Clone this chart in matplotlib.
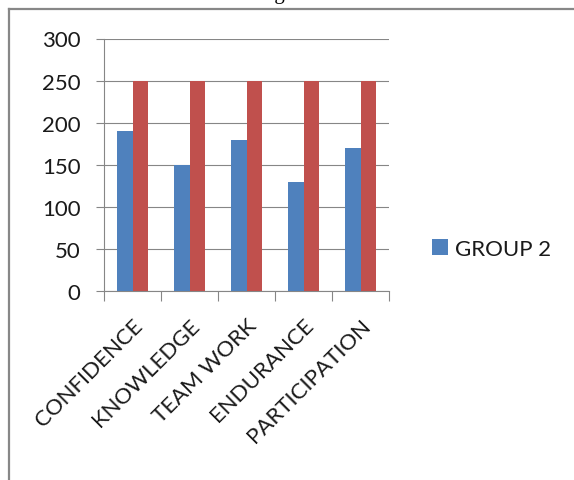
import matplotlib
matplotlib.use("Agg")
import matplotlib.pyplot as plt
from matplotlib.lines import Line2D
import numpy as np

categories = ["CONFIDENCE", "KNOWLEDGE", "TEAM WORK", "ENDURANCE", "PARTICIPATION"]
group2 = [190, 150, 180, 130, 170]
group1 = [250, 250, 250, 250, 250]
yticks = [0, 50, 100, 150, 200, 250, 300]

BLUE = "#4F81BD"
RED = "#C0504D"
GRID = "#868686"
TEXT = "#1a1a1a"

plt.rcParams["font.family"] = ["Lato", "DejaVu Sans"]

W, H = 574, 481
fig = plt.figure(figsize=(W / 100, H / 100), dpi=100)

# caption above the chart, mostly cut off at the top edge
fig.text(257 / W, 1 + 1 / H, "Figure", family="Liberation Serif", fontsize=15,
         ha="left", va="baseline", color="black")

# outer chart frame (top and left edges)
fig.add_artist(Line2D([9 / W, 1.0], [1 - 10 / H, 1 - 10 / H], transform=fig.transFigure,
                      color="#878787", lw=1.6))
fig.add_artist(Line2D([9 / W, 9 / W], [1 - 10 / H, 0.0], transform=fig.transFigure,
                      color="#878787", lw=1.6))

ax = fig.add_axes([104 / W, 1 - 292 / H, 285 / W, 252.5 / H])

x = np.arange(len(categories))
bw = 0.28
bars = ax.bar(x - bw / 2, group2, bw, color=BLUE, label="GROUP 2", zorder=3)
ax.bar(x + bw / 2, group1, bw, color=RED, zorder=3)

ax.set_xlim(-0.5, len(categories) - 0.5)
ax.set_ylim(0, 300)
ax.set_yticks(yticks)
ax.yaxis.grid(True, color=GRID, lw=0.8)
ax.set_axisbelow(True)
ax.tick_params(axis="y", length=6, width=0.8, color=GRID, pad=11,
               labelsize=16, labelcolor=TEXT)

# category ticks sit on the boundaries between groups
ax.set_xticks(x)
ax.set_xticklabels(categories, rotation=45, ha="right", rotation_mode="anchor",
                   fontsize=16, color=TEXT)
ax.tick_params(axis="x", which="major", length=0, pad=17)
ax.set_xticks(np.arange(-0.5, len(categories)), minor=True)
ax.tick_params(axis="x", which="minor", length=7, width=0.8, color=GRID)

for side in ("top", "right"):
    ax.spines[side].set_visible(False)
for side in ("left", "bottom"):
    ax.spines[side].set_color(GRID)
    ax.spines[side].set_linewidth(0.8)

fig.legend(handles=[bars], loc="center left", bbox_to_anchor=(432 / W, 1 - 250 / H),
           frameon=False, fontsize=16, handlelength=0.72, handleheight=0.72,
           handletextpad=0.32, borderpad=0, borderaxespad=0, labelcolor=TEXT)

fig.savefig("out.png", dpi=100)
